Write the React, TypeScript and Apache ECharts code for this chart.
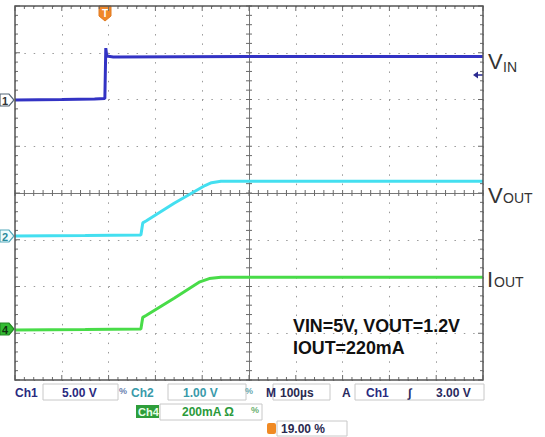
import React, { useEffect, useRef } from "react";
import * as echarts from "echarts";

// Trace data in screen divisions (x: -5..5, y: -4..4 from centre)
const vinTrace: [number, number][] = [
  [-5, 1.99], [-4, 2.0], [-3.3, 2.01], [-3.08, 2.02], [-3.06, 3.1], [-3.04, 2.93], [-2.9, 2.91], [0, 2.92], [5, 2.92],
];
const voutTrace: [number, number][] = [
  [-5, -0.92], [-3.5, -0.91], [-2.31, -0.9], [-2.27, -0.64], [-2.2, -0.6], [-1.6, -0.22], [-0.94, 0.16], [-0.8, 0.22], [-0.6, 0.25], [0, 0.25], [5, 0.25],
];
const ioutTrace: [number, number][] = [
  [-5, -2.93], [-3.5, -2.92], [-2.31, -2.91], [-2.27, -2.66], [-2.2, -2.62], [-1.6, -2.25], [-1.05, -1.9], [-0.85, -1.83], [-0.6, -1.8], [0, -1.8], [5, -1.8],
];
const seriesNames = ["VIN", "VOUT", "IOUT"];
const seriesColors = ["#3333c4", "#44dff0", "#48dc48"];
const xRange = [-5, 5];
const yRange = [-4, 4];
const minorStep = 0.2; // graticule minor division

const FONT = "Liberation Sans, Arial, sans-serif";

function marker(x: number, y: number, label: string, fill: string, stroke: string, textColor: string) {
  return {
    type: "group",
    x,
    y,
    children: [
      {
        type: "polygon",
        shape: { points: [[0, -6], [9, -6], [14, 0], [9, 6], [0, 6]] },
        style: { fill, stroke, lineWidth: 1.2 },
      },
      {
        type: "text",
        style: { text: label, x: 5, y: 0.5, font: `bold 11px ${FONT}`, fill: textColor, align: "center", verticalAlign: "middle", textAlign: "center", textVerticalAlign: "middle" },
      },
    ],
  };
}

function txt(text: string, x: number, y: number, size: number, color: string, bold = true, extra: any = {}) {
  return {
    type: "text",
    x,
    y,
    ...extra,
    style: {
      text,
      x: 0,
      y: 0,
      font: `${bold ? "bold " : ""}${size}px ${FONT}`,
      fill: color,
      align: "left",
      verticalAlign: "middle",
      textAlign: "left",
      textVerticalAlign: "middle",
    },
  };
}

function box(x: number, y: number, w: number, h: number, fill = "#ffffff") {
  return { type: "rect", shape: { x, y, width: w, height: h }, style: { fill, stroke: "#c8c8c8", lineWidth: 1 } };
}

export default function App() {
  const ref = useRef<HTMLDivElement>(null);
  useEffect(() => {
    if (!ref.current) return;
    const chart = echarts.init(ref.current, undefined, { renderer: "svg" });
    const dotted = { show: true, lineStyle: { color: "#9a9a9a", width: 1, type: [1.5, 7.85] } };

    const option: any = {
      animation: false,
      grid: { left: 15, top: 6, width: 468, height: 374 },
      xAxis: {
        type: "value", min: xRange[0], max: xRange[1], interval: 1,
        axisLabel: { show: false }, axisTick: { show: false },
        axisLine: { show: true, onZero: true, lineStyle: { color: "#777777", width: 1 } },
        splitLine: dotted,
      },
      yAxis: {
        type: "value", min: yRange[0], max: yRange[1], interval: 1,
        axisLabel: { show: false }, axisTick: { show: false },
        axisLine: { show: true, onZero: true, lineStyle: { color: "#777777", width: 1 } },
        splitLine: dotted,
      },
      series: [vinTrace, voutTrace, ioutTrace].map((d, i) => ({
        name: seriesNames[i],
        type: "line",
        data: d,
        showSymbol: false,
        symbol: "none",
        lineStyle: { color: seriesColors[i], width: 3 },
        z: 5,
      })),
    };
    chart.setOption(option);

    // graticule ticks placed through the chart's own coordinate conversion
    const tickStyle = { stroke: "#6a6a6a", lineWidth: 1 };
    const ticks: any[] = [];
    const px = (p: [number, number]) => chart.convertToPixel({ gridIndex: 0 }, p) as number[];
    const nx = Math.round((xRange[1] - xRange[0]) / minorStep);
    for (let i = 0; i <= nx; i++) {
      const v = xRange[0] + i * minorStep;
      const major = Math.abs(v - Math.round(v)) < 1e-6;
      const len = major ? 5 : 3;
      const t = px([v, yRange[1]]);
      const b = px([v, yRange[0]]);
      const c = px([v, 0]);
      ticks.push({ type: "line", z: 4, shape: { x1: t[0], y1: t[1], x2: t[0], y2: t[1] + len }, style: tickStyle });
      ticks.push({ type: "line", z: 4, shape: { x1: b[0], y1: b[1], x2: b[0], y2: b[1] - len }, style: tickStyle });
      ticks.push({ type: "line", z: 4, shape: { x1: c[0], y1: c[1] - 3, x2: c[0], y2: c[1] + 3 }, style: tickStyle });
    }
    const ny = Math.round((yRange[1] - yRange[0]) / minorStep);
    for (let i = 0; i <= ny; i++) {
      const v = yRange[0] + i * minorStep;
      const major = Math.abs(v - Math.round(v)) < 1e-6;
      const len = major ? 5 : 3;
      const l = px([xRange[0], v]);
      const r = px([xRange[1], v]);
      const c = px([0, v]);
      ticks.push({ type: "line", z: 4, shape: { x1: l[0], y1: l[1], x2: l[0] + len, y2: l[1] }, style: tickStyle });
      ticks.push({ type: "line", z: 4, shape: { x1: r[0], y1: r[1], x2: r[0] - len, y2: r[1] }, style: tickStyle });
      ticks.push({ type: "line", z: 4, shape: { x1: c[0] - 3, y1: c[1], x2: c[0] + 3, y2: c[1] }, style: tickStyle });
    }

    const decor: any[] = [
      // plot frame
      { type: "rect", shape: { x: 15, y: 6, width: 468, height: 374 }, style: { fill: "transparent", stroke: "#555555", lineWidth: 1.5 }, z: 10 },
      // trigger marker
      {
        type: "group",
        x: 105,
        y: 6,
        z: 11,
        children: [
          { type: "polygon", shape: { points: [[-6, 0], [6, 0], [6, 10], [0, 15], [-6, 10]] }, style: { fill: "#f0882a", stroke: "#e07a20", lineWidth: 1 } },
          { type: "text", style: { text: "T", x: 0, y: 7, font: `bold 10px ${FONT}`, fill: "#ffffff", align: "center", verticalAlign: "middle", textAlign: "center", textVerticalAlign: "middle" } },
        ],
      },
      // ground markers
      marker(0, 100, "1", "#ffffff", "#556677", "#333333"),
      marker(0, 236, "2", "#eefbfc", "#55aabb", "#2a8a9a"),
      marker(0, 329, "4", "#33bb33", "#228822", "#113311"),
      // trigger level arrow
      {
        type: "group",
        x: 473,
        y: 75,
        children: [
          { type: "polygon", shape: { points: [[0, 0], [5, -3.5], [5, 3.5]] }, style: { fill: "#2a2a90" } },
          { type: "line", shape: { x1: 4, y1: 0, x2: 10, y2: 0 }, style: { stroke: "#2a2a90", lineWidth: 1.5 } },
        ],
      },
      // right labels
      txt("V", 488, 61, 22, "#333333", false),
      txt("IN", 503, 67, 14, "#333333", false),
      txt("V", 488, 195, 22, "#333333", false),
      txt("OUT", 503, 198, 14, "#333333", false),
      txt("I", 487, 279, 22, "#333333", false),
      txt("OUT", 494, 282, 14, "#333333", false),
      // annotation
      txt("VIN=5V, VOUT=1.2V", 293, 325, 19, "#111111", true, { scaleX: 0.94 }),
      txt("IOUT=220mA", 293, 347, 19, "#111111", true, { scaleX: 0.94 }),
      // status bar row 1
      box(43, 384, 75, 16),
      box(168, 384, 78, 16),
      box(273, 384, 57, 16),
      box(355, 384, 129, 16),
      txt("Ch1", 15, 393, 12, "#2a2a80"),
      txt("5.00 V", 62, 393, 12, "#2a2a80"),
      txt("%", 119, 391, 9, "#6a7fb0"),
      txt("Ch2", 131, 393, 12, "#3a9aaa"),
      txt("1.00 V", 183, 393, 12, "#3a9aaa"),
      txt("%", 245, 391, 9, "#6aaab0"),
      txt("M", 266, 393, 12, "#2a2a60"),
      txt("100µs", 280, 393, 12, "#2a2a50"),
      txt("A", 342, 393, 12, "#2a2a60"),
      txt("Ch1", 366, 393, 12, "#2a2a80"),
      txt("∫", 408, 393, 12, "#2a2a60"),
      txt("3.00 V", 436, 393, 12, "#2a2a60"),
      // row 2
      box(160, 404, 102, 16),
      { type: "rect", shape: { x: 136, y: 405, width: 23, height: 13 }, style: { fill: "#2e9e3a" } },
      txt("Ch4", 138, 412, 11, "#e8ffe8"),
      txt("200mA Ω", 182, 412, 12, "#2a9a3a"),
      txt("%", 251, 410, 9, "#6ab070"),
      // row 3
      { type: "rect", shape: { x: 267, y: 423, width: 9, height: 11, r: 2 }, style: { fill: "#f08a24" } },
      box(277, 421, 70, 15),
      txt("19.00 %", 281, 429, 12, "#2a2a50"),
    ];
    chart.setOption({ graphic: [...ticks, ...decor] });
    return () => chart.dispose();
  }, []);
  return <div ref={ref} style={{ position: "fixed", left: 0, top: 0, width: 545, height: 437, background: "#fff" }} />;
}
